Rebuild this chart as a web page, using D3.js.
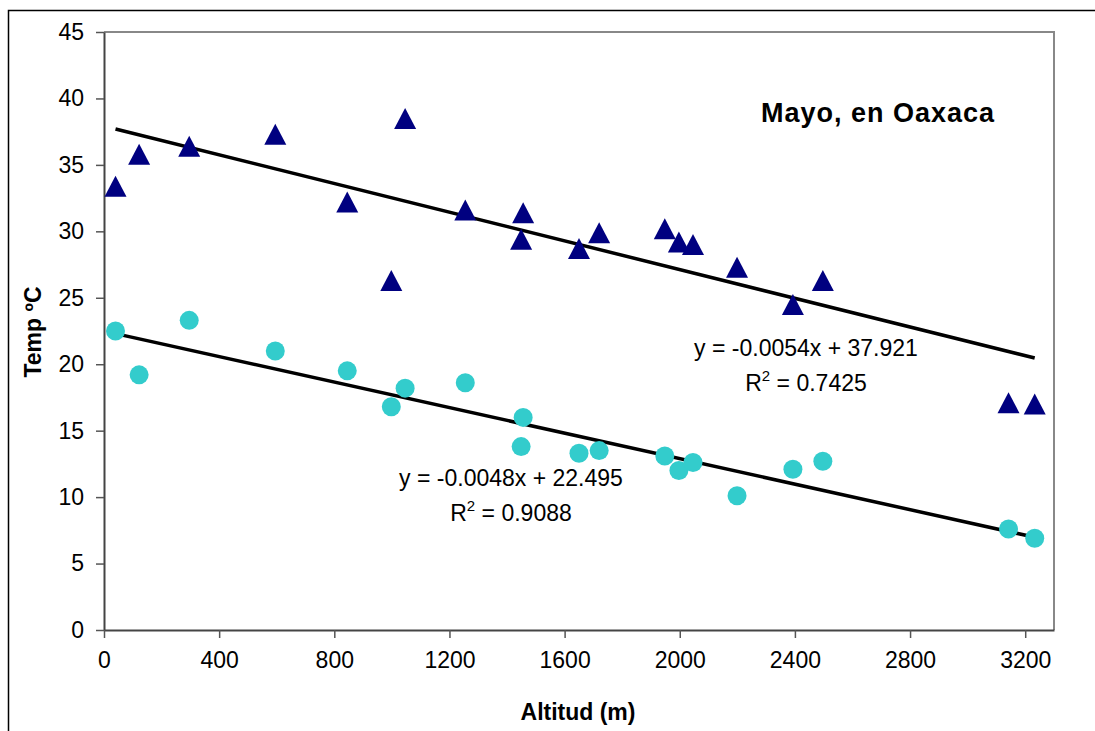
<html>
<head>
<meta charset="utf-8">
<script src="https://d3js.org/d3.v7.min.js"></script>
<style>
  body { margin: 0; background: #fff; }
  text { font-family: "Liberation Sans", Arial, sans-serif; fill: #000; }
</style>
</head>
<body>
<div id="chart"></div>
<script>
// altitude of each station (m)
var altitudes = [40, 122, 296, 595, 845, 998, 1046, 1255, 1449, 1456, 1650, 1720, 1948, 1997, 2046, 2199, 2393, 2497, 3142, 3233];
// max temperatures (triangles) and min temperatures (circles)
var tempMax = [33.4, 35.8, 36.4, 37.3, 32.2, 26.3, 38.5, 31.6, 29.4, 31.4, 28.7, 29.9, 30.2, 29.2, 29.0, 27.3, 24.5, 26.3, 17.1, 17.0];
var tempMin = [22.5, 19.2, 23.3, 21.0, 19.5, 16.8, 18.2, 18.6, 13.8, 16.0, 13.3, 13.5, 13.1, 12.0, 12.6, 10.1, 12.1, 12.7, 7.6, 6.9];
// trendline coefficients [slope, intercept, r2]
var trendMax = [-0.0054, 37.921, 0.7425];
var trendMin = [-0.0048, 22.495, 0.9088];
var xTicks = [0, 400, 800, 1200, 1600, 2000, 2400, 2800, 3200];
var yTicks = [0, 5, 10, 15, 20, 25, 30, 35, 40, 45];

var width = 1095, height = 731;
var pLeft = 104, pRight = 1054, pTop = 32, pBottom = 630;

var svg = d3.select('#chart').append('svg')
  .attr('width', width)
  .attr('height', height);

// outer chart frame
svg.append('rect')
  .attr('x', 8.5).attr('y', 10.5)
  .attr('width', 1200).attr('height', 800)
  .attr('fill', 'none').attr('stroke', '#000').attr('stroke-width', 1.5);

var x = d3.scaleLinear().domain([0, 3300]).range([pLeft, pRight]);
var y = d3.scaleLinear().domain([0, 45]).range([pBottom, pTop]);

// plot area border (top/right gray)
svg.append('path')
  .attr('d', 'M' + pLeft + ',' + pTop + 'H' + pRight + 'V' + pBottom)
  .attr('fill', 'none').attr('stroke', '#888').attr('stroke-width', 2);

var yAxis = svg.append('g')
  .attr('transform', 'translate(' + pLeft + ',0)')
  .call(d3.axisLeft(y).tickValues(yTicks).tickFormat(d3.format('d'))
    .tickSize(8).tickPadding(12).tickSizeOuter(0));
var xAxis = svg.append('g')
  .attr('transform', 'translate(0,' + pBottom + ')')
  .call(d3.axisBottom(x).tickValues(xTicks).tickFormat(d3.format('d'))
    .tickSize(8).tickPadding(14).tickSizeOuter(0));

[yAxis, xAxis].forEach(function(ax) {
  ax.select('.domain').attr('stroke', '#444').attr('stroke-width', 2);
  ax.selectAll('.tick line').attr('stroke', '#555').attr('stroke-width', 1.5);
  ax.selectAll('.tick text')
    .attr('fill', '#000')
    .style('font-size', '23px')
    .style('font-family', '"Liberation Sans", Arial, sans-serif');
});

// trendlines
function trendLine(coef) {
  var x0 = d3.min(altitudes), x1 = d3.max(altitudes);
  svg.append('line')
    .attr('x1', x(x0)).attr('y1', y(coef[0] * x0 + coef[1]))
    .attr('x2', x(x1)).attr('y2', y(coef[0] * x1 + coef[1]))
    .attr('stroke', '#000').attr('stroke-width', 3.5);
}
trendLine(trendMax);
trendLine(trendMin);

// min temps: circles
svg.selectAll('circle.tmin')
  .data(altitudes)
  .enter().append('circle')
  .attr('class', 'tmin')
  .attr('cx', function(d) { return x(d); })
  .attr('cy', function(d, i) { return y(tempMin[i]); })
  .attr('r', 9.5)
  .attr('fill', '#33CCCC');

// max temps: triangles
svg.selectAll('path.tmax')
  .data(altitudes)
  .enter().append('path')
  .attr('class', 'tmax')
  .attr('d', 'M0,-10.5L11,10.5L-11,10.5Z')
  .attr('transform', function(d, i) { return 'translate(' + x(d) + ',' + y(tempMax[i]) + ')'; })
  .attr('fill', '#000080');

// equation labels
function eqLabel(coef, cx, by) {
  var s = 'y = ' + coef[0].toFixed(4) + 'x + ' + coef[1].toFixed(3);
  svg.append('text')
    .attr('x', cx).attr('y', by)
    .attr('text-anchor', 'middle')
    .style('font-size', '23px')
    .text(s);
  var r = svg.append('text')
    .attr('x', cx).attr('y', by + 35)
    .attr('text-anchor', 'middle')
    .style('font-size', '23px');
  r.append('tspan').text('R');
  r.append('tspan').attr('dy', -10).style('font-size', '15px').text('2');
  r.append('tspan').attr('dy', 10).text(' = ' + coef[2].toFixed(4));
}
eqLabel(trendMax, 806, 356);
eqLabel(trendMin, 511, 486);

// title
svg.append('text')
  .attr('x', 878).attr('y', 122)
  .attr('text-anchor', 'middle')
  .style('font-size', '27px')
  .style('font-weight', 'bold')
  .style('letter-spacing', '1px')
  .text('Mayo, en Oaxaca');

// axis titles
svg.append('text')
  .attr('x', 578).attr('y', 720)
  .attr('text-anchor', 'middle')
  .style('font-size', '23px')
  .style('font-weight', 'bold')
  .text('Altitud (m)');

svg.append('text')
  .attr('transform', 'translate(41,332) rotate(-90)')
  .attr('text-anchor', 'middle')
  .style('font-size', '23px')
  .style('font-weight', 'bold')
  .text('Temp ºC');
</script>
</body>
</html>
